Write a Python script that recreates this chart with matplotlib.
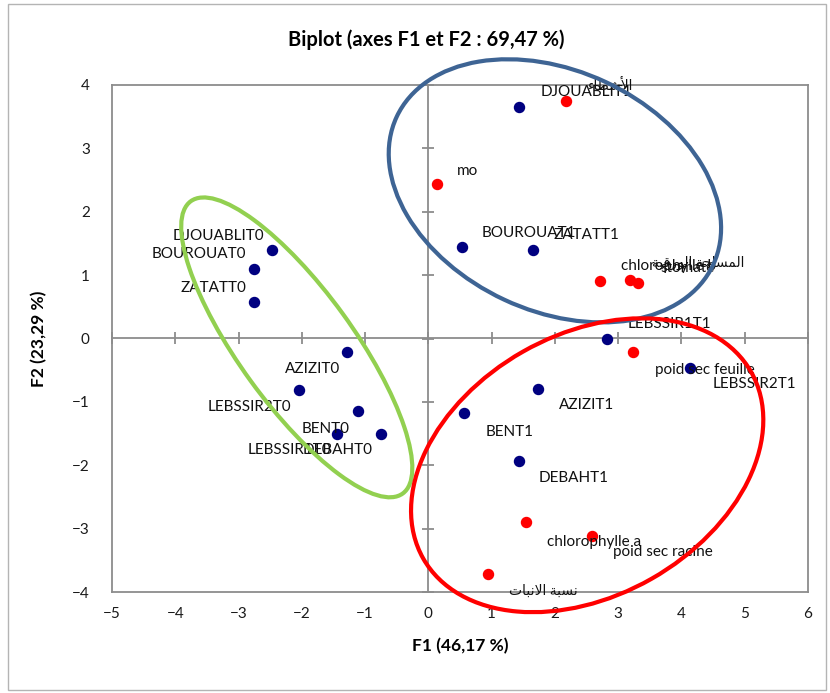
import matplotlib.pyplot as plt
from matplotlib.patches import Ellipse, Rectangle

plt.rcParams['font.family'] = ['Lato', 'DejaVu Sans']

# observation scores on F1 / F2
obs_names = ['DJOUABLIT1', 'BOUROUAT1', 'ZATATT1', 'LEBSSIR1T1', 'LEBSSIR2T1',
             'AZIZIT1', 'BENT1', 'DEBAHT1', 'DJOUABLIT0', 'BOUROUAT0', 'ZATATT0',
             'AZIZIT0', 'LEBSSIR2T0', 'BENT0', 'LEBSSIR1T0', 'DEBAHT0']
obs_f1 = [1.43, 0.53, 1.66, 2.83, 4.14, 1.74, 0.56, 1.43,
          -2.47, -2.75, -2.75, -1.28, -2.04, -1.11, -1.44, -0.75]
obs_f2 = [3.66, 1.45, 1.40, 0.00, -0.47, -0.80, -1.18, -1.94,
          1.39, 1.09, 0.58, -0.22, -0.82, -1.15, -1.51, -1.50]

# variable coordinates on F1 / F2
var_names = ['الأشطاء', 'mo', 'chlorophylle b', 'المساحة الورقية', 'stomate',
             'poid sec feuille', 'chlorophylle a', 'poid sec racine', 'نسبة الانبات']
var_f1 = [2.18, 0.13, 2.72, 3.19, 3.32, 3.24, 1.54, 2.58, 0.94]
var_f2 = [3.75, 2.44, 0.90, 0.93, 0.87, -0.22, -2.89, -3.11, -3.72]

x_ticks = list(range(-5, 7))
y_ticks = list(range(-4, 5))

# label offsets in pixels (dx, dy downwards, alignment)
obs_offsets = {
    'DJOUABLIT1': (22, -15, 'left'), 'BOUROUAT1': (20, -14, 'left'),
    'ZATATT1': (20, -15, 'left'), 'LEBSSIR1T1': (20, -14, 'left'),
    'LEBSSIR2T1': (22, 16, 'left'), 'AZIZIT1': (20, 16, 'left'),
    'BENT1': (22, 19, 'left'), 'DEBAHT1': (20, 17, 'left'),
    'DJOUABLIT0': (-8, -14, 'right'), 'BOUROUAT0': (-8, -15, 'right'),
    'ZATATT0': (-8, -14, 'right'), 'AZIZIT0': (-7, 17, 'right'),
    'LEBSSIR2T0': (-8, 17, 'right'), 'BENT0': (-9, 18, 'right'),
    'LEBSSIR1T0': (-6, 16, 'right'), 'DEBAHT0': (-8, 16, 'right'),
}
var_offsets = [(22, -16), (20, -13), (21, -15), (22, -17), (22, -15),
               (22, 18), (21, 20), (21, 16), (21, 16)]

# group ellipses: centre, width, height, angle, colour
groups = [
    ((2.00, 2.33), 5.52, 3.79, -25, '#3e6494'),
    ((-2.08, -0.14), 5.70, 1.80, -54, '#92d050'),
    ((2.51, -2.00), 5.96, 4.12, 29.6, '#ff0000'),
]

# --- minimal Arabic shaping (matplotlib has no text shaping) ---
_AR = {
    'ء': (0xFE80, 1), 'آ': (0xFE81, 2), 'أ': (0xFE83, 2), 'إ': (0xFE87, 2),
    'ا': (0xFE8D, 2), 'ب': (0xFE8F, 4), 'ة': (0xFE93, 2), 'ت': (0xFE95, 4),
    'ث': (0xFE99, 4), 'ج': (0xFE9D, 4), 'ح': (0xFEA1, 4), 'خ': (0xFEA5, 4),
    'د': (0xFEA9, 2), 'ذ': (0xFEAB, 2), 'ر': (0xFEAD, 2), 'ز': (0xFEAF, 2),
    'س': (0xFEB1, 4), 'ش': (0xFEB5, 4), 'ص': (0xFEB9, 4), 'ض': (0xFEBD, 4),
    'ط': (0xFEC1, 4), 'ظ': (0xFEC5, 4), 'ع': (0xFEC9, 4), 'غ': (0xFECD, 4),
    'ف': (0xFED1, 4), 'ق': (0xFED5, 4), 'ك': (0xFED9, 4), 'ل': (0xFEDD, 4),
    'م': (0xFEE1, 4), 'ن': (0xFEE5, 4), 'ه': (0xFEE9, 4), 'و': (0xFEED, 2),
    'ى': (0xFEEF, 2), 'ي': (0xFEF1, 4),
}
_LAM_ALEF = {'ا': 0xFEFB, 'أ': 0xFEF7, 'إ': 0xFEF9, 'آ': 0xFEF5}


def is_arabic(text):
    return any(c in _AR for c in text)


def shape_arabic(text):
    if not is_arabic(text):
        return text
    units = []
    i = 0
    while i < len(text):
        c = text[i]
        if c == 'ل' and i + 1 < len(text) and text[i + 1] in _LAM_ALEF:
            units.append((_LAM_ALEF[text[i + 1]], 2))
            i += 2
            continue
        units.append(_AR.get(c, (ord(c), 0)))
        i += 1
    out = []
    for k, (code, n) in enumerate(units):
        prev = k > 0 and units[k - 1][1] == 4 and n >= 2
        nxt = n == 4 and k + 1 < len(units) and units[k + 1][1] >= 2
        if n == 2:
            code += 1 if prev else 0
        elif n == 4:
            code += {(False, False): 0, (True, False): 1,
                     (False, True): 2, (True, True): 3}[(prev, nxt)]
        out.append(chr(code))
    return ''.join(reversed(out))


grey = '#8c8c8c'
px = 72 / 100  # points per pixel

fig = plt.figure(figsize=(8.3, 6.93), dpi=100)
fig.patches.append(Rectangle((8 / 830, 3 / 693), 818 / 830, 686 / 693,
                             transform=fig.transFigure, fill=False,
                             edgecolor='#b4b4b4', linewidth=1))
ax = fig.add_axes([112 / 830, 1 - 592 / 693, 696 / 830, 507 / 693])
ax.set_xlim(-5, 6)
ax.set_ylim(-4, 4)
ax.set_xticks(x_ticks)
ax.set_yticks(y_ticks)
ax.tick_params(length=0, labelsize=11, labelcolor='#1a1a1a')
ax.tick_params(axis='y', pad=16)
ax.tick_params(axis='x', pad=11)
for s in ax.spines.values():
    s.set_color(grey)
    s.set_linewidth(1.3)

# axes through the origin with crossing tick marks
sx = ax.secondary_xaxis(0.5)
sx.set_xticks(x_ticks)
sx.tick_params(direction='inout', length=9, width=1.3, color=grey,
               labelbottom=False, labeltop=False)
sy = ax.secondary_yaxis(5 / 11)
sy.set_yticks(y_ticks)
sy.tick_params(direction='inout', length=9, width=1.3, color=grey,
               labelleft=False, labelright=False)
for sec in (sx, sy):
    for s in sec.spines.values():
        s.set_color(grey)
        s.set_linewidth(1.3)

ax.scatter(obs_f1, obs_f2, s=52, color='#000080', zorder=3)
ax.scatter(var_f1, var_f2, s=52, color='#ff0000', zorder=3)

for name, x, y in zip(obs_names, obs_f1, obs_f2):
    dx, dy, ha = obs_offsets[name]
    ax.annotate(name, (x, y), xytext=(dx * px, -dy * px), textcoords='offset points',
                ha=ha, va='center', fontsize=11, color='#111111', zorder=4)
for name, x, y, (dx, dy) in zip(var_names, var_f1, var_f2, var_offsets):
    size = 10 if is_arabic(name) else 11
    ax.annotate(shape_arabic(name), (x, y), xytext=(dx * px, -dy * px),
                textcoords='offset points', ha='left', va='center',
                fontsize=size, color='#111111', zorder=4)

for centre, w, h, ang, col in groups:
    ax.add_patch(Ellipse(centre, w, h, angle=ang, fill=False, edgecolor=col,
                         linewidth=3, clip_on=False, zorder=5))

ax.set_xlabel('F1 (46,17 %)', fontsize=12.5, fontweight='bold', labelpad=12)
ax.set_ylabel('F2 (23,29 %)', fontsize=12.5, fontweight='bold', labelpad=18)
fig.text(426 / 830, 1 - 40 / 693, 'Biplot (axes F1 et F2 : 69,47 %)',
         ha='center', va='center', fontsize=14.5, fontweight='bold')

fig.savefig('out.png', dpi=100)
